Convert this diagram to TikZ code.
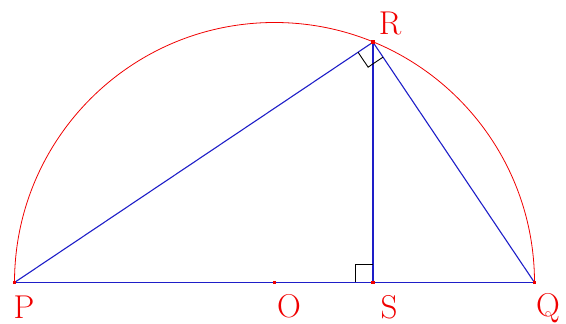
\documentclass[tikz,border=0pt]{standalone}
\usetikzlibrary{calc}
\definecolor{lineblue}{RGB}{30,30,200}
\definecolor{ptred}{RGB}{240,0,0}
\begin{document}
\begin{tikzpicture}[x=1pt,y=1pt,
  seg/.style={draw=lineblue,line width=1.1pt},
  rtmark/.style={draw=black,line width=0.9pt},
  dotpt/.style={fill=ptred,inner sep=0pt,minimum size=3.5pt,rectangle},
  lbl/.style={text=ptred,font=\fontsize{33}{33}\selectfont,inner sep=0pt}]
\useasboundingbox (0,0) rectangle (566,324);
\coordinate (P) at (14.5,41.5);
\coordinate (O) at (274.5,41.5);
\coordinate (Q) at (534.5,41.5);
\coordinate (S) at (373,41.5);
\coordinate (R) at (373,281.8);
% semicircle
\draw[ptred,line width=0.8pt] (P) arc[start angle=180,end angle=0,radius=260];
% triangle and altitude
\draw[seg] (P) -- (Q);
\draw[seg] (P) -- (R);
\draw[seg] (R) -- (Q);
\draw[seg] (R) -- (S);
% right angle at R
\coordinate (ra) at ($(R)!18pt!(P)$);
\coordinate (rb) at ($(R)!18pt!(Q)$);
\draw[rtmark] (ra) -- ($(ra)+(rb)-(R)$) -- (rb);
% right angle at S
\draw[rtmark] ($(S)+(-18,0)$) -- ($(S)+(-18,18)$) -- ($(S)+(0,18)$);
% points
\node[dotpt] (dP) at (P) {};
\node[dotpt] (dO) at (O) {};
\node[dotpt] (dQ) at (Q) {};
\node[dotpt] (dS) at (S) {};
\node[dotpt] (dR) at (R) {};
% labels
\node[lbl] (lP) at (24,17) {P};
\node[lbl] (lO) at (289,18) {O};
\node[lbl] (lS) at (389,17) {S};
\node[lbl] (lQ) at (548,16) {Q};
\node[lbl] (lR) at (390,301) {R};
\end{tikzpicture}
\end{document}
